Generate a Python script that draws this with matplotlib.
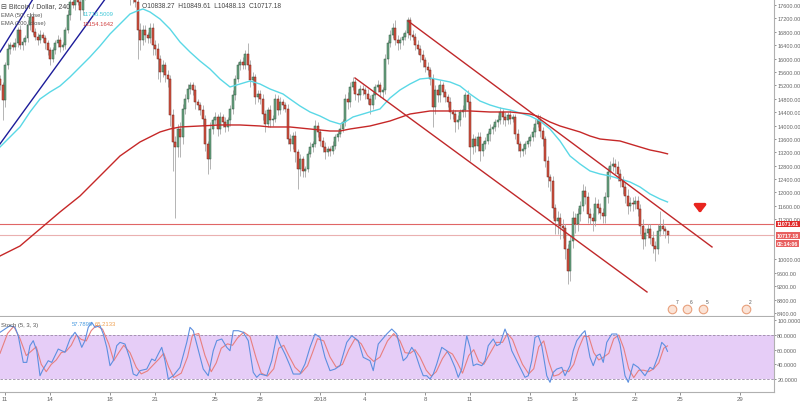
import numpy as np
import matplotlib.pyplot as plt

plt.rcParams['font.family'] = ['Liberation Sans', 'DejaVu Sans']

# BTC/USD 4h candles, Dec 10 16:00 -> Jan 24 04:00 (one row per day, 6 candles)
first_open = 15400
closes = (
    [15200, 14750]
    + [15800, 16300, 16400, 16350, 16450, 16850]   # Dec 11
    + [16400, 16500, 16600, 17000, 17250, 16800]
    + [16650, 16550, 16700, 16600, 16450, 16250]
    + [16000, 16250, 16450, 16550, 16350, 16400]
    + [16850, 17300, 17700, 17600, 17900, 17700]   # Dec 15
    + [17450, 17900, 18500, 19000, 19200, 19300]
    + [19500, 19600, 19300, 19000, 18900, 18700]
    + [18600, 18800, 18900, 19000, 18900, 18900]
    + [18500, 18200, 17800, 17900, 17700, 16850]
    + [16550, 16850, 16700, 16600, 16900, 16400]   # Dec 20
    + [16300, 16000, 15600, 15800, 15500, 15400]
    + [14300, 13500, 13350, 13900, 13650, 14500]
    + [14800, 15100, 15200, 15050, 14700, 14600]
    + [14450, 14200, 13450, 13000, 13900, 14150]
    + [14250, 13900, 14250, 14100, 13950, 14150]   # Dec 25
    + [14500, 14900, 15400, 15800, 15900, 15800]
    + [16150, 15800, 15350, 15450, 14850, 14950]
    + [14800, 14350, 14050, 14450, 14150, 14200]
    + [14800, 14450, 14700, 14600, 14500, 13600]
    + [13450, 13700, 13200, 12700, 13000, 12650]   # Dec 30
    + [12700, 13150, 13350, 13450, 14000, 13800]
    + [13550, 13350, 13200, 13300, 13250, 13400]   # Jan 1
    + [13650, 13750, 13900, 14100, 14800, 14700]
    + [15150, 15300, 14950, 14900, 15100, 15050]
    + [14950, 14800, 14600, 14900, 15150, 15200]
    + [15000, 15050, 16000, 16450, 16700, 16900]   # Jan 5
    + [16550, 16450, 16550, 16650, 16750, 17150]
    + [16700, 16650, 16400, 16300, 16100, 15950]
    + [15750, 15650, 15400, 14550, 15050, 14900]
    + [15200, 15000, 14850, 14700, 14400, 14350]
    + [14100, 14150, 14400, 14450, 14900, 14700]   # Jan 10
    + [13350, 13600, 13400, 13650, 13250, 13450]
    + [13550, 13750, 13900, 13950, 14100, 14150]
    + [14400, 14250, 14150, 14300, 14200, 14250]
    + [13750, 13450, 13250, 13300, 13450, 13550]
    + [13650, 13800, 14050, 14150, 13850, 13600]   # Jan 15
    + [12950, 12450, 12350, 11550, 11150, 11250]
    + [11000, 10950, 10300, 9650, 10550, 11250]
    + [11050, 11350, 11600, 12050, 11850, 11350]
    + [11250, 11150, 11650, 11550, 11400, 11300]
    + [11850, 12600, 12800, 12850, 12750, 12550]   # Jan 20
    + [12350, 12150, 11900, 11600, 11700, 11650]
    + [11750, 11500, 11000, 10600, 10800, 10900]
    + [10650, 10400, 10300, 10850, 11000, 10900]
    + [10838.27, 10717.18]                         # Jan 24
)
upper_wick = (
    [100, 100]
    + [100, 150, 100, 100, 150, 100] + [150, 100, 100, 150, 100, 150]
    + [100, 100, 150, 100, 100, 100] + [100, 100, 100, 150, 100, 100]
    + [100, 150, 100, 150, 100, 150] + [150, 150, 200, 150, 200, 150]
    + [200, 150, 100, 150, 150, 150] + [150, 150, 100, 150, 100, 150]
    + [100, 150, 150, 150, 150, 150] + [200, 150, 150, 100, 150, 150]
    + [150, 150, 100, 150, 100, 150] + [100, 200, 200, 150, 200, 150]
    + [150, 150, 100, 100, 150, 100] + [100, 150, 100, 100, 200, 100]
    + [150, 100, 150, 100, 150, 100] + [100, 150, 100, 100, 100, 150]
    + [100, 300, 150, 150, 100, 100] + [100, 150, 100, 100, 150, 100]
    + [150, 100, 150, 100, 100, 150] + [150, 100, 150, 100, 150, 100]
    + [100, 100, 150, 100, 150, 100] + [100, 100, 150, 100, 100, 150]
    + [100, 100, 150, 100, 150, 200] + [150, 150, 100, 150, 100, 100]
    + [100, 150, 100, 100, 100, 150] + [100, 100, 150, 100, 150, 150]
    + [250, 150, 100, 100, 100, 100] + [100, 150, 100, 150, 100, 150]
    + [100, 150, 100, 150, 150, 150] + [150, 100, 100, 100, 150, 100]
    + [100, 150, 100, 150, 100, 150] + [200, 150, 100, 150, 150, 100]
    + [100, 100, 150, 100, 100, 150] + [150, 100, 150, 100, 150, 100]
    + [100, 150, 100, 150, 100, 100] + [100, 150, 150, 200, 150, 100]
    + [100, 150, 100, 150, 100, 200] + [150, 200, 100, 150, 150, 200]
    + [150, 200, 150, 200, 150, 150] + [200, 150, 200, 150, 150, 150]
    + [150, 150, 150, 200, 150, 200] + [150, 150, 150, 200, 150, 150]
    + [150, 150, 150, 200, 150, 150] + [150, 200, 150, 200, 450, 200]
    + [100, 11.34]
)
lower_wick = (
    [150, 600]
    + [200, 100, 150, 100, 100, 100] + [100, 150, 100, 100, 150, 100]
    + [100, 150, 100, 100, 150, 150] + [200, 100, 100, 100, 150, 100]
    + [100, 100, 150, 100, 150, 100] + [300, 150, 150, 200, 150, 150]
    + [150, 150, 200, 150, 200, 150] + [150, 200, 100, 150, 150, 100]
    + [150, 200, 200, 150, 150, 850] + [300, 150, 200, 150, 150, 300]
    + [200, 600, 300, 150, 200, 250] + [300, 850, 2100, 300, 600, 200]
    + [150, 100, 150, 150, 200, 150] + [150, 200, 200, 450, 300, 150]
    + [100, 200, 150, 150, 150, 100] + [150, 150, 150, 100, 150, 100]
    + [100, 150, 200, 150, 200, 150] + [150, 200, 250, 100, 200, 150]
    + [100, 150, 100, 150, 100, 150] + [200, 150, 300, 600, 200, 200]
    + [200, 100, 100, 150, 100, 150] + [150, 150, 200, 100, 150, 100]
    + [100, 100, 100, 100, 100, 200] + [150, 100, 200, 200, 150, 150]
    + [150, 150, 250, 100, 100, 150] + [150, 200, 100, 150, 100, 100]
    + [150, 200, 150, 150, 100, 150] + [150, 100, 150, 150, 200, 200]
    + [150, 150, 200, 600, 200, 200] + [200, 150, 150, 150, 200, 150]
    + [300, 200, 150, 150, 200, 200] + [400, 200, 200, 150, 300, 150]
    + [150, 100, 200, 150, 100, 150] + [100, 200, 150, 100, 150, 100]
    + [150, 200, 200, 150, 150, 100] + [150, 100, 150, 100, 200, 200]
    + [200, 300, 300, 300, 400, 400] + [400, 300, 300, 380, 300, 200]
    + [250, 200, 200, 150, 200, 250] + [200, 300, 150, 200, 200, 200]
    + [200, 150, 200, 150, 200, 200] + [200, 200, 200, 250, 150, 200]
    + [150, 200, 250, 300, 200, 150] + [200, 200, 350, 150, 150, 150]
    + [200, 229.05]
)

# EMA lines: (candle index, price)
ema50_x = [0, 4, 8, 12, 16, 20, 24, 28, 32, 36, 40, 44, 48, 52, 54.8, 57.2, 60, 64, 68, 72,
           76, 80, 84, 88, 92, 96, 100, 104, 108, 113.2, 116, 120, 124, 128, 132, 136, 138,
           141.2, 145.2, 149.2, 152, 156, 160, 164, 168, 172, 176, 180, 184, 188, 192, 196,
           200, 204, 208, 212, 216, 220, 224, 228, 232, 236, 240, 244, 248, 252, 256, 260,
           264, 267]
ema50_y = [13358, 13657, 13956, 14404, 14792, 15001, 15181, 15449, 15748, 16047, 16375, 16734,
           17032, 17331, 17421, 17481, 17391, 17182, 16883, 16495, 16196, 15927, 15688, 15390,
           15151, 15240, 15330, 15240, 15091, 14942, 14792, 14583, 14404, 14284, 14135, 14045,
           14105, 14255, 14344, 14434, 14494, 14822, 15061, 15240, 15390, 15420, 15360, 15300,
           15181, 14942, 14732, 14613, 14523, 14464, 14374, 14284, 14135, 13896, 13538, 13090,
           12851, 12642, 12552, 12492, 12403, 12313, 12164, 11955, 11806, 11716]
ema200_x = [0, 8, 16, 24, 32, 40, 48, 56, 64, 68, 72, 80, 88, 96, 104, 108, 116, 124, 132, 136,
            140, 148, 156, 164, 172, 180, 188, 196, 204, 212, 216, 220, 224, 228, 232, 236, 240,
            244, 248, 252, 256, 260, 264, 267]
ema200_y = [10103, 10401, 10909, 11417, 11895, 12492, 13090, 13508, 13807, 13896, 13956, 13986,
            14016, 14016, 13986, 13956, 13956, 13896, 13836, 13836, 13896, 13986, 14135, 14344,
            14434, 14434, 14434, 14404, 14404, 14344, 14255, 14105, 13986, 13896, 13807, 13687,
            13597, 13567, 13538, 13448, 13358, 13269, 13209, 13154]

k_x = [0, 2, 4, 6, 7.3, 9.3, 10.7, 12, 13.3, 14.7, 16, 17.3, 19.3, 20.7, 22, 23.3, 24.7, 26, 28,
       30, 31.3, 32.7, 34, 35.3, 36.7, 38, 40, 41.3, 42.7, 44, 45.3, 46.7, 48, 50, 52, 53.3,
       54.7, 56, 58.7, 60.7, 62, 63.3, 64.7, 66, 67.3, 69.3, 72, 74.7, 76, 77.3, 78.7, 81.3,
       83.3, 85.3, 86.7, 88.7, 90.7, 92, 93.3, 95.3, 97.3, 99.3, 101.3, 102.7, 104, 106.7,
       108.7, 110.7, 112, 114, 116, 117.3, 120, 122, 124, 126, 128, 130, 132, 134, 136, 138.7,
       140.7, 143.3, 145.3, 148, 149.3, 151.3, 154.7, 156.7, 158.7, 160, 161.3, 162.7, 164.7,
       166, 168, 169.3, 170.7, 172, 173.3, 174.7, 176.7, 178.7, 180, 182, 183.3, 184.7, 186.7,
       188, 189.3, 190.7, 192.7, 194, 195.3, 197.3, 198.7, 200, 202, 203.3, 204.7, 206.7, 208,
       210, 211.3, 212.7, 214, 215.3, 216.7, 218.7, 220, 221.3, 222.7, 224.7, 226, 228, 229.3,
       230.7, 232.7, 234, 236, 237.3, 238.7, 240, 241.3, 242.7, 244.7, 246.7, 248, 250, 251.3,
       253.3, 255.3, 258, 260, 261.3, 263.3, 264.7, 266, 267]
k_y = [83.7, 88.2, 92.8, 90.5, 79.1, 42.7, 42.7, 65.5, 72.3, 58.6, 24.5, 33.6, 45.0, 42.7, 51.8,
       60.9, 58.6, 56.4, 74.6, 83.7, 76.8, 63.2, 72.3, 90.5, 97.3, 90.5, 92.8, 81.4, 63.2, 38.2,
       45.0, 65.5, 70.0, 67.7, 47.3, 26.8, 24.5, 31.4, 33.6, 47.3, 45.0, 54.1, 63.2, 45.0, 20.0,
       24.5, 35.9, 70.0, 90.5, 85.9, 67.7, 33.6, 24.5, 58.6, 72.3, 74.6, 63.2, 58.6, 85.9, 85.9,
       83.7, 72.3, 29.1, 22.3, 26.8, 24.5, 45.0, 79.1, 67.7, 54.1, 38.2, 26.8, 26.8, 40.5, 63.2,
       81.4, 76.8, 49.6, 31.4, 33.6, 38.2, 70.0, 79.1, 72.3, 49.6, 45.0, 31.4, 67.7, 81.4, 88.2,
       81.4, 63.2, 45.0, 49.6, 63.2, 56.4, 35.9, 24.5, 24.5, 20.0, 26.8, 40.5, 63.2, 58.6, 51.8,
       35.9, 22.3, 33.6, 79.1, 63.2, 38.2, 40.5, 38.2, 45.0, 65.5, 74.6, 65.5, 67.7, 88.2, 76.8,
       58.6, 45.0, 35.9, 22.3, 24.5, 45.0, 76.8, 79.1, 65.5, 24.5, 15.5, 29.1, 33.6, 35.9, 24.5,
       38.2, 58.6, 72.3, 81.4, 85.9, 49.6, 38.2, 51.8, 54.1, 42.7, 70.0, 81.4, 81.4, 67.7, 24.5,
       15.5, 40.5, 35.9, 24.5, 35.9, 33.6, 51.8, 70.0, 65.5, 57.79]
d_x = [0, 3, 5.5, 8, 10.5, 12.5, 14.5, 16.5, 18.5, 20.5, 22.5, 24.5, 26.5, 28.5, 30.5, 32.5, 34.5,
       36.5, 38.5, 41, 43.5, 45.5, 47.5, 49.5, 52, 54.5, 56.5, 59, 61.5, 63.5, 65.5, 67.5, 69.5,
       72.5, 75, 77, 79.5, 82, 84.5, 86.5, 88.5, 91, 93, 95, 97.5, 100, 102.5, 104.5, 107, 109.5,
       111.5, 113.5, 115.5, 118, 120.5, 123, 125, 127, 129.5, 132, 134.5, 137, 139.5, 142, 144.5,
       147, 149.5, 152, 155, 157.5, 160, 162, 164, 166, 168, 170.5, 172.5, 174.5, 177, 179, 181,
       183, 185, 187.5, 189.5, 191.5, 193.5, 196, 198.5, 201, 203, 205, 207, 209, 211.5, 213.5,
       215.5, 217.5, 219.5, 221.5, 223.5, 225.5, 227.5, 229.5, 231.5, 233.5, 235.5, 237.5, 239.5,
       241.5, 243.5, 245.5, 247.5, 249.5, 251.5, 253.5, 255.5, 257.5, 259.5, 261.5, 263.5, 265.5,
       267]
d_y = [55, 82, 92, 75, 52, 58, 64, 40, 30, 40, 46, 56, 58, 66, 80, 74, 72, 86, 93, 88, 68, 45,
       56, 66, 56, 36, 27, 31, 40, 47, 55, 36, 22, 28, 50, 80, 82, 52, 30, 42, 62, 68, 66, 76, 84,
       78, 48, 28, 24, 34, 62, 66, 52, 36, 28, 38, 56, 75, 72, 50, 36, 40, 60, 75, 68, 52, 44, 50,
       72, 82, 72, 56, 55, 60, 50, 32, 24, 30, 48, 58, 54, 42, 28, 52, 60, 44, 40, 55, 70, 70, 82,
       74, 56, 40, 27, 34, 64, 72, 44, 24, 26, 32, 30, 40, 62, 78, 78, 56, 46, 50, 55, 75, 80, 62,
       34, 22, 32, 32, 30, 34, 42, 62, 65.21]

# drawings on the chart: (candle index, price)
blue_line_a = ([0, 18], [16196, 18355])
blue_line_b = ([0, 45], [13450, 18080])
red_line_top = ([163.2, 284.8], [17122, 10372])
red_line_bottom = ([142, 258.8], [15420, 9027])
level_high, level_last = 11071.61, 10717.18
event_x = [268.8, 274.8, 281.2, 298.4]
event_n = ['7', '6', '5', '2']

# price ticks; 10800 and 10400 sit under the price tags
price_ticks = [8400, 8800, 9200, 9600, 10000, 11200, 11600, 12000, 12400, 12800, 13200,
               13600, 14000, 14400, 14800, 15200, 15600, 16000, 16400, 16800, 17200, 17600]
day_ticks = [0, 3, 7, 10, 14, 17, 21, 24, 28, 31, 35, 38, 42, 45, 49]
day_labels = ['11', '14', '18', '21', '25', '28', '2018', '4', '8', '11', '15', '18', '22', '25', '29']

W, H = 800, 402
fig = plt.figure(figsize=(8, 4.02), dpi=100)
ax = fig.add_axes([0, 1 - 317 / H, 774 / W, 317 / H])
ax2 = fig.add_axes([0, 1 - 393 / H, 774 / W, 75 / H], sharex=ax)

c = np.array(closes, dtype=float)
o = np.concatenate([[first_open], c[:-1]])
hi = np.maximum(o, c) + np.array(upper_wick)
lo = np.minimum(o, c) - np.array(lower_wick)
idx = np.arange(len(c))
up = c >= o

ax.vlines(idx, lo, hi, color='#a8a8a8', lw=0.6, zorder=2)
body = np.maximum(np.abs(c - o), 20)
bot = np.minimum(o, c)
ax.bar(idx[up], body[up], bottom=bot[up], width=0.8, color='#6ba583',
       edgecolor='#2f5a40', linewidth=0.35, zorder=3)
ax.bar(idx[~up], body[~up], bottom=bot[~up], width=0.8, color='#d75442',
       edgecolor='#6b2018', linewidth=0.35, zorder=3)

ax.plot(ema50_x, ema50_y, color='#5ad8e6', lw=1.0, zorder=4)
ax.plot(ema200_x, ema200_y, color='#c62828', lw=1.0, zorder=4)
ax.plot(*blue_line_a, color='#1c1c9a', lw=1.0, zorder=5)
ax.plot(*blue_line_b, color='#1c1c9a', lw=1.0, zorder=5)
ax.plot(*red_line_top, color='#c0282a', lw=1.0, zorder=5)
ax.plot(*red_line_bottom, color='#c0282a', lw=1.0, zorder=5)
ax.axhline(level_high, color='#e06666', lw=0.8, zorder=1)
ax.axhline(level_last, color='#eab0b0', lw=0.8, zorder=1)

ax.annotate('', xy=(280, 11300), xytext=(280, 11720),
            arrowprops=dict(arrowstyle='-|>,head_width=0.35,head_length=0.45',
                            color='#e8251f', lw=2.2))
ax.scatter(event_x, [8530] * 4, s=38, facecolor='#fbe3d6', edgecolor='#e8a07c',
           linewidth=0.8, zorder=6)
for ex, n in zip(event_x, event_n):
    ax.text(ex + 1.3, 8700, n, fontsize=3.5, color='#555555', zorder=7)

ax.set_xlim(0, 309.6)
ax.set_ylim(8310, 17779)
ax.yaxis.tick_right()
ax.set_yticks(price_ticks)
ax.yaxis.set_major_formatter(plt.FormatStrFormatter('%.2f'))
ax.tick_params(axis='y', labelsize=4.0, colors='#666666', length=1.5, pad=0.8, width=0.5)
ax.tick_params(axis='x', bottom=False, labelbottom=False)
for s in ['top', 'left']:
    ax.spines[s].set_visible(False)
ax.spines['right'].set_color('#b0b0b0')
ax.spines['bottom'].set_color('#b0b0b0')

# stochastic pane
ax2.axhspan(20, 80, color='#e6cdf7', lw=0)
ax2.axhline(80, color='#9a8aa6', lw=0.6, ls=(0, (3, 2)))
ax2.axhline(20, color='#9a8aa6', lw=0.6, ls=(0, (3, 2)))
ax2.plot(d_x, d_y, color='#e87f7f', lw=0.8)
ax2.plot(k_x, k_y, color='#5d8fe0', lw=0.8)
ax2.set_ylim(2.3, 104.6)
ax2.yaxis.tick_right()
ax2.set_yticks([20, 40, 60, 80, 100])
ax2.yaxis.set_major_formatter(plt.FormatStrFormatter('%.4f'))
ax2.tick_params(axis='y', labelsize=4.0, colors='#666666', length=1.5, pad=0.8, width=0.5)
ax2.set_xticks([2 + 6 * d for d in day_ticks])
ax2.set_xticklabels(day_labels)
ax2.tick_params(axis='x', labelsize=4.4, colors='#666666', length=2, pad=1, width=0.5)
for s in ['top', 'left']:
    ax2.spines[s].set_visible(False)
ax2.spines['right'].set_color('#b0b0b0')
ax2.spines['bottom'].set_color('#b0b0b0')

# price tags on the right axis
def tag(y_px, text, bg):
    fig.text(777 / W, 1 - y_px / H, text, fontsize=3.8, color='white', ha='left',
             va='center', fontweight='bold',
             bbox=dict(boxstyle='square,pad=0.1', fc=bg, ec='none'))

tag(225, '11071.61', '#e02b2b')
tag(236.5, '10717.18', '#e86060')
tag(244.5, '02:14:06', '#e86060')

# legends
fig.text(1 / W, 1 - 7 / H, '\u229f Bitcoin / Dollar, 240', fontsize=5, color='#444444', va='center')
fig.text(142 / W, 1 - 7 / H, 'O10838.27  H10849.61  L10488.13  C10717.18',
         fontsize=4.8, color='#444444', va='center')
fig.text(1 / W, 1 - 15 / H, 'EMA (50, close)', fontsize=4.2, color='#555555', va='center')
fig.text(83 / W, 1 - 15 / H, '11716.5009', fontsize=4.2, color='#3ec8d8', va='center')
fig.text(1 / W, 1 - 24 / H, 'EMA (200, close)', fontsize=4.2, color='#555555', va='center')
fig.text(83 / W, 1 - 24 / H, '13154.1642', fontsize=4.2, color='#d04040', va='center')
fig.text(1 / W, 1 - 325 / H, 'Stoch (5, 3, 3)', fontsize=4.2, color='#555555', va='center')
fig.text(72 / W, 1 - 325 / H, '57.7899', fontsize=4.2, color='#4a9be0', va='center')
fig.text(95 / W, 1 - 325 / H, '65.2133', fontsize=4.2, color='#f0a050', va='center')

fig.savefig('out.png', dpi=100)
